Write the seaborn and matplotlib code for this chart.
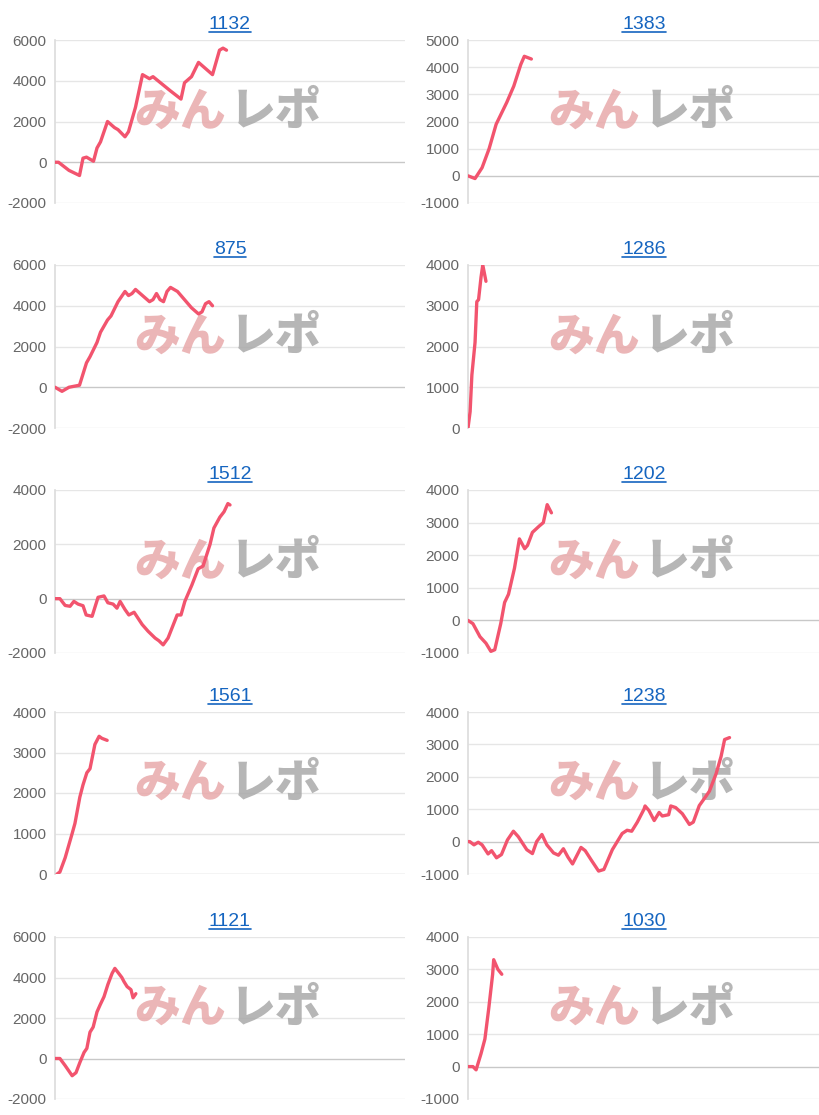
import matplotlib
matplotlib.use('Agg')
import matplotlib.pyplot as plt
import seaborn as sns
import pandas as pd
from matplotlib.lines import Line2D

titles = ['1132', '1383', '875', '1286', '1512', '1202', '1561', '1238', '1121', '1030']

x1132 = [0, 1, 4, 7, 8, 9, 11, 12, 13, 15, 17, 18, 20, 21, 23, 25, 27, 28, 33, 36, 37, 39, 41, 45, 47, 48, 49]
y1132 = [0, 0, -400, -650, 200, 250, 50, 700, 1000, 2000, 1700, 1600, 1250, 1500, 2700, 4300, 4100, 4200,
         3500, 3100, 3900, 4200, 4900, 4300, 5500, 5600, 5500]
x1383 = [0, 2, 4, 6, 8, 11, 13, 15, 16, 18]
y1383 = [0, -100, 300, 1000, 1900, 2700, 3300, 4100, 4400, 4300]
x875 = [0, 2, 4, 7, 9, 10, 12, 13, 15, 16, 18, 20, 21, 22, 23, 25, 27, 28, 29, 30, 31, 32, 33, 35, 36, 38,
        39, 41, 42, 43, 44, 45]
y875 = [0, -200, 0, 100, 1200, 1500, 2200, 2700, 3300, 3500, 4200, 4700, 4500, 4600, 4800, 4500, 4200, 4300,
        4600, 4300, 4200, 4700, 4900, 4700, 4500, 4100, 3900, 3600, 3700, 4100, 4200, 4000]
x1286 = [0, 0.6, 1.1, 2, 2.5, 3, 3.7, 4.2, 5.1]
y1286 = [0, 400, 1300, 2100, 3100, 3150, 3700, 4000, 3600]
x1512 = [0, 1.4, 2.9, 4.3, 5.4, 6.6, 8, 8.9, 10.6, 12.3, 14, 15.1, 16.6, 17.7, 18.6, 20, 21.1, 22.6, 24.9,
         26.6, 28.6, 29.7, 30.9, 32.3, 34.9, 36, 37.1, 39.1, 40.9, 42.3, 44.3, 45.4, 47.1, 48.3, 49.4, 50]
y1512 = [0, 0, -250, -280, -100, -200, -260, -600, -650, 50, 100, -150, -200, -350, -100, -400, -600, -500,
         -950, -1200, -1450, -1550, -1700, -1450, -600, -600, -100, 500, 1100, 1200, 2000, 2600, 3000, 3200,
         3500, 3450]
x1202 = [0, 1.4, 3.4, 5.1, 6.5, 7.6, 9.3, 10.4, 11.5, 13.2, 14.6, 16.1, 16.9, 18.3, 20.3, 21.4, 22.5, 23.7]
y1202 = [0, -100, -500, -700, -950, -900, -100, 550, 800, 1600, 2500, 2200, 2300, 2700, 2900, 3000, 3550, 3300]
x1561 = [0.6, 1.4, 2.9, 4.9, 5.7, 7.1, 8, 9.1, 10, 11.4, 12.6, 13.4, 14.9]
y1561 = [0, 50, 400, 1000, 1250, 1900, 2200, 2500, 2600, 3200, 3400, 3350, 3300]
x1238 = [0, 0.5, 1.7, 2.9, 4, 5.7, 6.7, 8.1, 9.5, 11.2, 12.9, 14.3, 16.7, 18.3, 19.5, 21, 22.4, 24.3, 25.7,
         27.1, 28.4, 29.7, 32.1, 33.3, 35.2, 37.1, 38.6, 41, 42.4, 43.8, 45.2, 46.5, 48.1, 50, 50.3, 51.4,
         52.9, 54.3, 55.2, 57, 57.6, 59, 60.9, 62.9, 64, 65.7, 67.6, 68.6, 70.5, 71.9, 72.9, 74.3]
y1238 = [0, 0, -100, -20, -100, -380, -280, -500, -400, 50, 320, 150, -250, -370, 0, 220, -100, -350, -420,
         -220, -480, -690, -180, -280, -600, -910, -860, -250, 0, 250, 350, 320, 600, 1000, 1100, 960, 650,
         900, 790, 830, 1100, 1050, 860, 530, 600, 1110, 1400, 1560, 2100, 2630, 3150, 3210]
x1121 = [0, 1.4, 2.9, 3.7, 4.9, 6, 7.1, 8.3, 9.1, 10, 10.9, 12, 12.9, 14, 15.1, 16.3, 17.1, 18, 19.1, 19.7,
         20.6, 21.7, 22.3, 23.1]
y1121 = [0, 0, -350, -550, -850, -700, -200, 300, 500, 1300, 1550, 2300, 2650, 3050, 3650, 4200, 4450, 4250,
         4000, 3800, 3550, 3400, 3000, 3200]
x1030 = [0, 1.4, 2.3, 3.7, 4.8, 5.9, 7, 7.3, 8.5, 9.6]
y1030 = [0, 0, -100, 400, 850, 1800, 2850, 3300, 3000, 2850]

series = [(x1132, y1132), (x1383, y1383), (x875, y875), (x1286, y1286), (x1512, y1512),
          (x1202, y1202), (x1561, y1561), (x1238, y1238), (x1121, y1121), (x1030, y1030)]
yticks = [range(-2000, 6001, 2000), range(-1000, 5001, 1000), range(-2000, 6001, 2000), range(0, 4001, 1000),
          range(-2000, 4001, 2000), range(-1000, 4001, 1000), range(0, 4001, 1000), range(-1000, 4001, 1000),
          range(-2000, 6001, 2000), range(-1000, 4001, 1000)]

sns.set_theme(style='white')
plt.rcParams['font.family'] = ['Liberation Sans', 'DejaVu Sans']
plt.rcParams['axes.unicode_minus'] = False

W, H = 820, 1115
fig = plt.figure(figsize=(8.2, 11.15), dpi=100)
tops = [40, 265, 490, 712, 937]
heights = [163, 163, 163, 162, 162]
lefts = [55, 468]
widths = [350, 352]

axes = []
for i, (xs, ys) in enumerate(series):
    r, c = divmod(i, 2)
    l, w = lefts[c], widths[c]
    t, h = tops[r], heights[r]
    ax = fig.add_axes([l / W, 1 - (t + h) / H, w / W, h / H])
    df = pd.DataFrame({'x': xs, 'y': ys})
    sns.lineplot(data=df, x='x', y='y', ax=ax, color='#f2546e', linewidth=2.4, zorder=5)
    tk = list(yticks[i])
    ax.set_ylim(tk[0], tk[-1])
    ax.set_yticks(tk)
    ax.set_xlim(0, 100)
    ax.set_xticks([])
    ax.set_xlabel('')
    ax.set_ylabel('')
    for v in tk:
        ax.axhline(v, color='#c8c8c8' if v == 0 else '#e6e6e6', linewidth=1, zorder=1)
    for s in ['top', 'right', 'bottom']:
        ax.spines[s].set_visible(False)
    ax.spines['left'].set_color('#dddddd')
    ax.tick_params(axis='y', labelsize=11, labelcolor='#666666', length=0, pad=6)
    ax.set_title(titles[i], fontsize=14, color='#1565c0', pad=8)
    # watermark
    ax.text(0.49, 0.56, 'みん', transform=ax.transAxes, ha='right', va='center', fontsize=33,
            fontweight='heavy', family=['Noto Sans CJK JP'], color='#e8a9ab', alpha=0.85, zorder=3)
    ax.text(0.5, 0.56, 'レポ', transform=ax.transAxes, ha='left', va='center', fontsize=33,
            fontweight='heavy', family=['Noto Sans CJK JP'], color='#a9a9a9', alpha=0.85, zorder=3)
    axes.append(ax)

# underline titles (link style)
fig.canvas.draw()
renderer = fig.canvas.get_renderer()
for ax in axes:
    bb = ax.title.get_window_extent(renderer)
    y = (bb.y0 + 1) / H
    fig.add_artist(Line2D([bb.x0 / W, bb.x1 / W], [y, y], color='#1565c0', linewidth=1.2))

fig.savefig('out.png', dpi=100, facecolor='white')
